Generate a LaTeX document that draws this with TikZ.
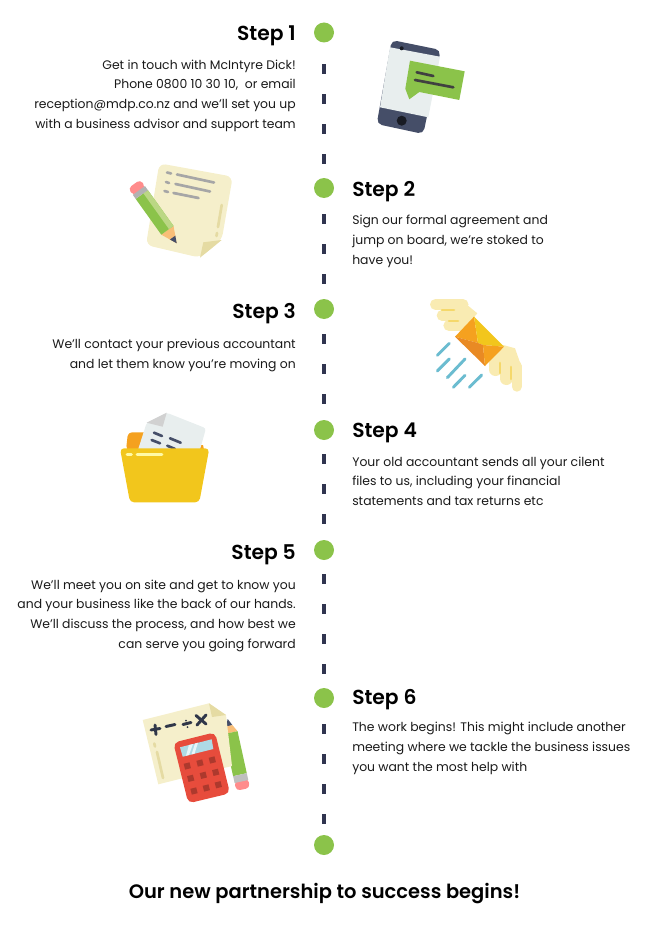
\documentclass[tikz,border=0pt]{standalone}
\usepackage{fontspec}
\setmainfont{Poppins}[BoldFont={Poppins SemiBold}]
\usetikzlibrary{backgrounds}
\definecolor{dotgreen}{HTML}{8BC34A}
\definecolor{linenavy}{HTML}{30344F}
\definecolor{paper}{HTML}{F5EFCB}
\definecolor{paperfold}{HTML}{E5DBA3}
\definecolor{slate}{HTML}{454E68}
\definecolor{screen}{HTML}{E8EEEE}
\definecolor{peach}{HTML}{F8BE78}
\definecolor{yolk}{HTML}{F2C61C}
\definecolor{amber}{HTML}{F5A11F}
\definecolor{rust}{HTML}{E98A24}
\definecolor{wing}{HTML}{F9EBB2}
\definecolor{quill}{HTML}{F5D86A}
\definecolor{skyline}{HTML}{6BBCD0}
\definecolor{calcred}{HTML}{E74C3C}
\tikzset{
  stepdot/.style={circle,fill=dotgreen,minimum size=15pt,inner sep=0pt},
  steptitle/.style={font=\fontsize{15.2}{18}\selectfont\bfseries,text=black,inner sep=0pt},
  stepbody/.style={font=\fontsize{9.3}{14.8}\selectfont,text=black!90,inner sep=0pt},
  bar/.style={line cap=round,line width=2pt},
}
\begin{document}
\begin{tikzpicture}[x=0.75pt,y=-0.75pt]
\useasboundingbox (0,0) rectangle (645,938);

\node[stepdot] (S1) at (324,32.5) {};
\node[stepdot] (S2) at (324,188) {};
\node[stepdot] (S3) at (324,309) {};
\node[stepdot] (S4) at (324,430) {};
\node[stepdot] (S5) at (324,550) {};
\node[stepdot] (S6) at (324,698) {};
\node[stepdot] (S7) at (324,845) {};
\begin{scope}[on background layer]
\draw[linenavy,line width=2.4pt,dash pattern=on 7.5pt off 15pt,dash phase=8.6pt,shorten <=2.25pt] (S1) -- (S7);
\end{scope}

\node[steptitle,anchor=east] (T1) at (296,35.5) {Step 1};
\node[stepbody,anchor=north east,align=right] (B1) at (296,59.5) {Get in touch with McIntyre Dick!\\Phone 0800 10 30 10,~ or email\\reception@mdp.co.nz and we’ll set you up\\with a business advisor and support team};
\node[steptitle,anchor=west] (T2) at (352,191.5) {Step 2};
\node[stepbody,anchor=north west,align=left] (B2) at (352,215) {Sign our formal agreement and\\jump on board, we’re stoked to\\have you!};
\node[steptitle,anchor=east] (T3) at (296,314) {Step 3};
\node[stepbody,anchor=north east,align=right] (B3) at (296,339) {We’ll contact your previous accountant\\and let them know you’re moving on};
\node[steptitle,anchor=west] (T4) at (352,433) {Step 4};
\node[stepbody,anchor=north west,align=left] (B4) at (352,456.5) {Your old accountant sends all your cilent\\files to us, including your financial\\statements and tax returns etc};
\node[steptitle,anchor=east] (T5) at (296,555) {Step 5};
\node[stepbody,anchor=north east,align=right] (B5) at (296,579.5) {We’ll meet you on site and get to know you\\and your business like the back of our hands.\\We’ll discuss the process, and how best we\\can serve you going forward};
\node[steptitle,anchor=west] (T6) at (352,700) {Step 6};
\node[stepbody,anchor=north west,align=left] (B6) at (352,722) {The work begins! This might include another\\meeting where we tackle the business issues\\you want the most help with};
\node[font=\fontsize{14.6}{18}\selectfont\bfseries,text=black,inner sep=0pt] (E) at (324.5,894) {Our new partnership to success begins!};

% phone
\fill[slate,rounded corners=4] (391.7,40) -- (440.7,50) -- (423.3,134) -- (376.7,124) -- cycle;
\fill[screen] (390,47.3) -- (440,56.7) -- (428.3,117.3) -- (380,107.3) -- cycle;
\fill[black!65!slate] (401.7,120.7) circle (5);
\fill[black!65!slate] (401.7,48.3) circle (2);
\fill[dotgreen] (410,60.7) -- (464.7,71.3) -- (459.3,100) -- (419.3,92) -- (409.3,99.3) -- (405.3,88.7) -- cycle;
\draw[bar,black!75] (416.7,72.3) -- (433.3,76);
\draw[bar,black!75] (415,80) -- (453.3,87.3);

% paper and pencil
\fill[paper,rounded corners=5] (159.3,163.3) -- (232.7,176.7) -- (221.7,240) -- (200,257.7) -- (146,245) -- cycle;
\fill[paperfold] (221.7,240) -- (203.3,242.3) -- (200,257.7) -- cycle;
\draw[bar,black!35] (167,172.5) -- (171,173.5);
\draw[bar,black!35] (177,174.5) -- (214,182.5);
\draw[bar,black!35] (166,182) -- (169,183);
\draw[bar,black!35] (175.5,184) -- (210,191.5);
\draw[bar,black!35] (164.5,191) -- (168,192);
\draw[bar,black!35] (173.5,193) -- (198.5,198);
\draw[bar,paperfold] (221.7,205) -- (218,227);
\draw[bar,paperfold] (217,233) -- (216.5,236);
\begin{scope}[shift={(176.7,243.3)},rotate=125.6]
\fill[peach] (0,0) -- (16,7.5) -- (16,-7.5) -- cycle;
\fill[slate] (0,0) -- (7,3.3) -- (7,-3.3) -- cycle;
\fill[dotgreen] (16,-7.5) rectangle (60,7.5);
\fill[dotgreen!55!paper] (16,2) rectangle (60,7.5);
\fill[red!45!white,rounded corners=3] (64,-7.5) -- (73,-7.5) -- (73,7.5) -- (64,7.5) -- cycle;
\fill[gray!60] (60,-7.5) rectangle (65,7.5);
\end{scope}

% envelope
\fill[wing] (460,299) -- (477.3,313.3) -- (461.7,331.7) -- (450,310) -- cycle;
\draw[wing,line width=8.25pt,line cap=round] (435.5,304.5) -- (463,304.5);
\draw[wing,line width=8pt,line cap=round] (442,315.3) -- (467,315.3);
\draw[wing,line width=8.5pt,line cap=round] (449,325.5) -- (463,325.5);
\fill[wing] (503.3,345) -- (515,348.3) -- (521.5,366.7) -- (489.5,365) -- (491.7,360) -- cycle;
\draw[wing,line width=7.5pt,line cap=round] (516.7,366) -- (516.7,386.7);
\draw[wing,line width=9.5pt,line cap=round] (506.3,365) -- (506.3,378.7);
\draw[wing,line width=9.5pt,line cap=round] (495.4,363) -- (495.4,369.7);
\draw[bar,quill] (442,310) -- (454,310);
\draw[bar,quill] (449,321) -- (458,321);
\draw[bar,quill] (500,363) -- (500,373);
\draw[bar,quill] (511,367) -- (511,379);
\fill[amber] (474,316.7) -- (455,336.7) -- (478,343) -- cycle;
\fill[yolk] (474,316.7) -- (504,346.7) -- (483,345) -- (478,343) -- cycle;
\fill[rust] (455,336.7) -- (485,366) -- (483,345) -- (478,343) -- cycle;
\fill[amber] (483,345) -- (504,346.7) -- (485,366) -- cycle;
\foreach \xa/\ya/\xb/\yb in {449.3/343.3/437.3/355.3,449.3/359/437.3/371,465/359/447.3/377.7,465/375.3/453.3/387.3,481.7/375/469.3/387.3}{
  \draw[skyline,line width=2.2pt,line cap=round] (\xa,\ya) -- (\xb,\yb);
}

% folder
\fill[amber,rounded corners=3] (126,450) -- (128,432.3) -- (160,432.3) -- (160,460) -- cycle;
\fill[amber] (200,445) -- (203,445) -- (204,450) -- (198,452) -- cycle;
\fill[screen,rounded corners=2] (166.7,412.7) -- (206,428.3) -- (199.3,452) -- (137.3,452) -- (146.7,422.7) -- cycle;
\fill[black!18] (146.7,422.7) -- (166.7,412.7) -- (162.7,426.7) -- cycle;
\draw[bar,slate] (154,432.7) -- (162,436);
\draw[bar,slate] (151.7,440) -- (160,443.3);
\draw[bar,slate] (170,438.3) -- (180.7,442.7);
\draw[bar,slate] (167.3,445.7) -- (175,449);
\fill[yolk,rounded corners=3] (120,448.3) -- (209.3,448.3) -- (199.3,502.3) -- (130,502.3) -- cycle;
\draw[bar,yellow!35!white] (127,454.3) -- (131.5,454.3);
\draw[bar,yellow!35!white] (137,454.3) -- (162,454.3);

% calculator, paper and pencil
\begin{scope}[shift={(227.7,719)},rotate=-77.6]
\fill[slate] (0,0) -- (7,3.3) -- (7,-3.3) -- cycle;
\fill[peach] (7,-3.3) -- (7,3.3) -- (14,7) -- (14,-7) -- cycle;
\fill[dotgreen] (14,-7) rectangle (57,7);
\fill[red!45!white,rounded corners=3] (62,-7) -- (72,-7) -- (72,7) -- (62,7) -- cycle;
\fill[gray!50] (57,-7) rectangle (64,7);
\end{scope}
\fill[paper] (142.7,720) -- (209,703.3) -- (226,715) -- (232,766) -- (158.3,784.3) -- cycle;
\fill[paperfold] (209,703.3) -- (226,715) -- (212,717) -- cycle;
\begin{scope}[line width=2.2pt,draw=slate!70!black,line cap=round]
\draw (151,730) -- (160,728.5);
\draw (155,725) -- (156,734.5);
\draw (166,726.5) -- (175,724.5);
\draw (183,724.5) -- (191,722.5);
\fill[slate!70!black] (186,720.5) circle (1);
\fill[slate!70!black] (187.5,727) circle (1);
\draw (196,715.5) -- (206,724);
\draw (206,715) -- (197,725);
\end{scope}
\draw[bar,paperfold] (154.3,743.5) -- (155,746.5);
\draw[bar,paperfold] (157,752) -- (163,778);
\fill[calcred,rounded corners=4] (173.3,742.7) -- (215,732.3) -- (230,793.3) -- (188.3,803.3) -- cycle;
\fill[skyline!55!white] (180,747.3) -- (211.7,739.3) -- (213.3,749) -- (182.7,756.7) -- cycle;
\fill[white!85!skyline] (189,745) -- (193,744) -- (189,755) -- (186,755.7) -- cycle;
\fill[white!85!skyline] (195,743.5) -- (198,742.7) -- (194.5,753.7) -- (191.5,754.5) -- cycle;
\foreach \bx/\by in {187.3/766,200/763,212.3/760,190.7/778.3,203.3/775.3,215.7/772.3,194/791,206.3/788,218.3/784.7}{
  \fill[calcred!75!black,shift={(\bx,\by)},rotate=14] (-3,-3) rectangle (3,3);
}
\end{tikzpicture}
\end{document}
